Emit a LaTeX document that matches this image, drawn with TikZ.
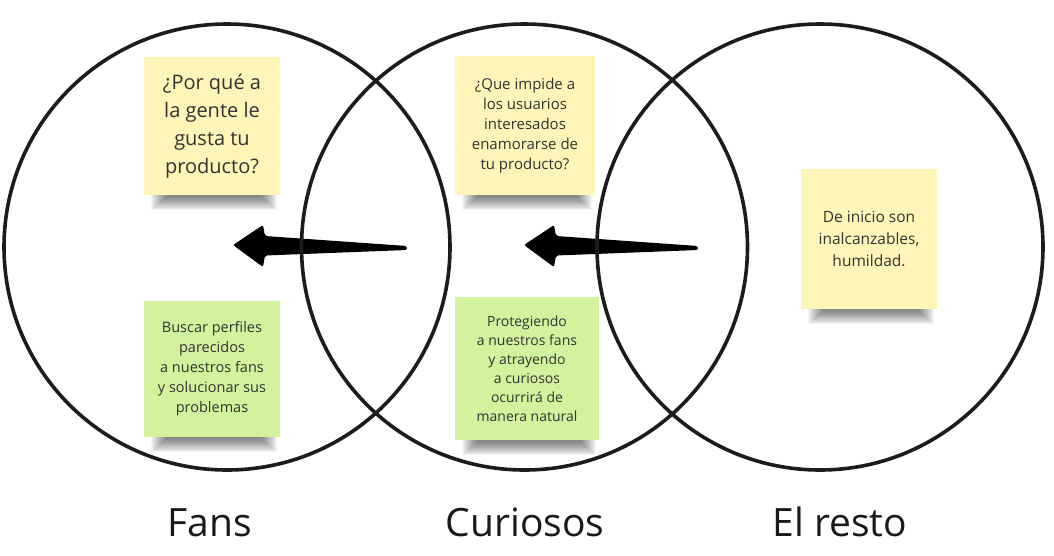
\documentclass[tikz,border=0pt]{standalone}
\usepackage{fontspec}
\setmainfont{Open Sans}
\usetikzlibrary{calc,backgrounds}

\definecolor{stickyyellow}{HTML}{FFF5B8}
\definecolor{stickygreen}{HTML}{D3F29E}
\definecolor{inktext}{HTML}{333333}
\definecolor{ringline}{HTML}{1C1C1C}

\tikzset{
  ring/.style={draw=ringline, line width=3.6pt, circle, minimum size=446pt, inner sep=0pt},
  sticky/.style={inner sep=0pt, align=center, text=inktext},
  yellownote/.style={sticky, fill=stickyyellow},
  greennote/.style={sticky, fill=stickygreen},
  setlabel/.style={text=black!90, font=\fontsize{39}{47}\selectfont, anchor=base},
  % thick tapered arrow, drawn from its tip towards its tail on the right
  fatarrow/.pic={
    \fill[black, rounded corners=2pt]
      (0,0) -- (30,-20) -- (32,-9) -- (174,1) -- (174,5) -- (32,10.5) -- (30,22) -- cycle;
  }
}

% soft drop shadow under the lower edge of a sticky note
\newcommand{\softshadow}[1]{%
  \foreach \i in {0,...,15}{
    \fill[black, opacity=0.034]
      ($(#1.south west)+(7+\i*1.0,-2)$) rectangle ($(#1.south east)+(-3-\i*1.0,15-\i*0.85)$);
  }%
}

\begin{document}
\begin{tikzpicture}[x=1pt, y=-1pt]
  \useasboundingbox (0,0) rectangle (1054,555);

  % arrows pointing from the outer sets towards the fans
  \coordinate (tipA) at (233,245);
  \coordinate (tipB) at (524,245);
  \pic at (tipA) {fatarrow};
  \pic at (tipB) {fatarrow};

  % the three sets
  \node[ring] (fans) at (227,247) {};
  \node[ring] (curiosos) at (524.5,247) {};
  \node[ring] (resto) at (820,247) {};

  % sticky notes
  \node[yellownote, minimum width=136pt, minimum height=138pt,
        font=\fontsize{20}{28}\selectfont] (why) at (212,126)
        {¿Por qué a\\la gente le\\gusta tu\\producto?};
  \node[yellownote, minimum width=140pt, minimum height=139pt,
        font=\fontsize{15}{20}\selectfont] (block) at (525,125.5)
        {¿Que impide a\\los usuarios\\interesados\\enamorarse de\\tu producto?};
  \node[greennote, minimum width=136pt, minimum height=136pt,
        font=\fontsize{14.5}{20}\selectfont] (search) at (212,369)
        {Buscar perfiles\\parecidos\\a nuestros fans\\y solucionar sus\\problemas};
  \node[greennote, minimum width=144pt, minimum height=143pt,
        font=\fontsize{14}{19}\selectfont] (protect) at (527,368.5)
        {Protegiendo\\a nuestros fans\\y atrayendo\\a curiosos\\ocurrirá de\\manera natural};
  \node[yellownote, minimum width=136pt, minimum height=140pt,
        font=\fontsize{15.5}{22}\selectfont] (reach) at (869,239)
        {De inicio son\\inalcanzables,\\humildad.};

  \begin{scope}[on background layer]
    \fill[white] (0,0) rectangle (1054,555);
    \softshadow{why}
    \softshadow{block}
    \softshadow{search}
    \softshadow{protect}
    \softshadow{reach}
  \end{scope}

  % set names
  \node[setlabel] (lfans) at (210,536) {Fans};
  \node[setlabel] (lcur) at (525,536) {Curiosos};
  \node[setlabel] (lres) at (840,536) {El resto};
\end{tikzpicture}
\end{document}
